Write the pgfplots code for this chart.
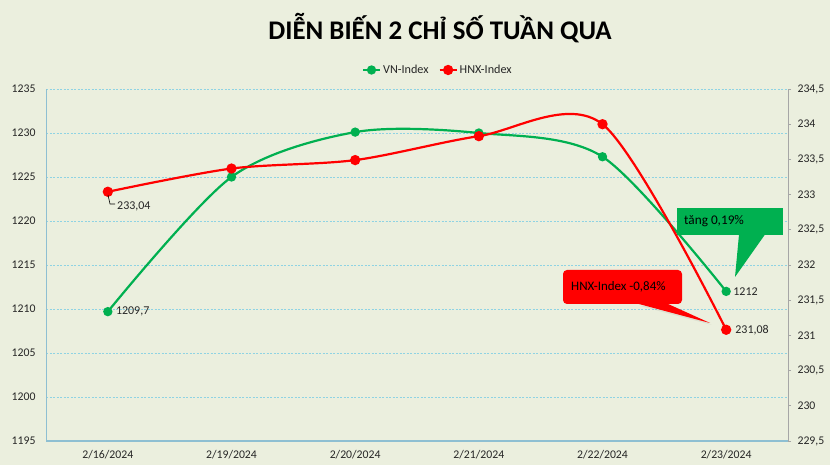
\documentclass[border=0pt]{standalone}
\usepackage{fontspec}
\setmainfont{Carlito}
\usepackage{pgfplots}
\pgfplotsset{compat=1.18}
\definecolor{bg}{HTML}{EBEFDE}
\definecolor{vn}{HTML}{00B050}
\definecolor{hnx}{HTML}{FF0000}
\definecolor{gridc}{HTML}{8FD3E3}
\definecolor{axc}{HTML}{8EBFD2}
\definecolor{txt}{HTML}{262626}
\begin{document}
\begin{tikzpicture}[x=1bp,y=1bp]
\fill[bg] (0,0) rectangle (830,465);
\useasboundingbox (0,0) rectangle (830,465);
\node[font=\fontsize{27}{30}\selectfont\bfseries, text=black] at (440,437) {DIỄN BIẾN 2 CHỈ SỐ TUẦN QUA};
\begin{axis}[
  at={(46bp,24bp)}, anchor=south west,
  scale only axis, width=742bp, height=352bp,
  xmin=-0.5, xmax=5.5, ymin=1195, ymax=1235,
  xtick={0,...,5},
  xticklabels={2/16/2024,2/19/2024,2/20/2024,2/21/2024,2/22/2024,2/23/2024},
  ytick={1195,1200,...,1235},
  axis y line*=left, axis x line*=bottom,
  axis line style={draw=axc, line width=1bp, -},
  x axis line style={line width=2bp},
  major tick length=0pt,
  ymajorgrids,
  major grid style={draw=gridc, line width=0.8bp, dash pattern=on 2bp off 1.5bp},
  tick label style={font=\fontsize{11.8}{13}\selectfont, text=txt},
  xticklabel style={yshift=-6bp},
  yticklabel style={xshift=-7bp},
  /pgf/number format/assume math mode=true,
  /pgf/number format/1000 sep={},
  legend style={at={(0.528,1.054)}, anchor=center, draw=none, fill=none,
    font=\fontsize{12.2}{14}\selectfont, text=txt, legend columns=2,
    /tikz/every even column/.append style={column sep=8bp}},
  legend cell align=left,
]
\addplot[vn, line width=2.2bp, smooth, mark=*, mark size=3.5bp, mark options={fill=vn, draw=vn}]
  coordinates {(0,1209.7) (1,1225.0) (2,1230.1) (3,1230.0) (4,1227.3) (5,1212)};
\addlegendentry{VN-Index}
\addlegendimage{hnx, line width=2.2bp, mark=*, mark size=4bp, mark options={fill=hnx, draw=hnx}}
\addlegendentry{HNX-Index}
\node[anchor=west, font=\fontsize{12}{13}\selectfont, text=txt, inner sep=0pt] at (axis cs:0,1209.7) [xshift=8bp] {1209,7};
\node[anchor=west, font=\fontsize{12}{13}\selectfont, text=txt, inner sep=0pt] at (axis cs:5,1212) [xshift=7bp] {1212};
\end{axis}
\begin{axis}[
  at={(46bp,24bp)}, anchor=south west,
  scale only axis, width=742bp, height=352bp,
  xmin=-0.5, xmax=5.5, ymin=229.5, ymax=234.5,
  ytick={229.5,230,...,234.5},
  axis y line*=right, axis x line=none,
  axis line style={draw=gray!70, line width=1bp, -},
  tick align=outside, major tick length=3bp,
  tick style={draw=gray!70, line width=0.8bp},
  tick label style={font=\fontsize{11.8}{13}\selectfont, text=txt},
  yticklabel style={xshift=3bp},
  /pgf/number format/assume math mode=true,
  /pgf/number format/use comma,
  /pgf/number format/fixed,
]
\addplot[hnx, line width=2.2bp, smooth, mark=*, mark size=4bp, mark options={fill=hnx, draw=hnx}]
  coordinates {(0,233.04) (1,233.37) (2,233.49) (3,233.83) (4,234.0) (5,231.08)};
\node[anchor=west, font=\fontsize{12}{13}\selectfont, text=txt, inner sep=0pt] at (axis cs:5,231.08) [xshift=9bp] {231,08};
\end{axis}
% leader line for 233,04
\draw[black, line width=0.6bp] (108,270) -- (110,261) -- (115,261);
\node[anchor=west, font=\fontsize{12}{13}\selectfont, text=txt, inner sep=0pt] at (117,259) {233,04};
% green callout
\fill[vn] (677,257) rectangle (783,230);
\fill[vn] (739,230.5) -- (735,188) -- (765,230.5) -- cycle;
\node[anchor=west, font=\fontsize{13.3}{15}\selectfont, text=black, inner sep=0pt] at (684,244) {tăng 0,19\%};
% red callout
\fill[black, opacity=0.06] (640,159) -- (712,140) -- (670,159) -- cycle;
\fill[hnx] (637,161.5) -- (710,142) -- (667,161.5) -- cycle;
\fill[hnx, rounded corners=4bp] (563,195) rectangle (682,161);
\node[anchor=west, font=\fontsize{13}{15}\selectfont, text=black, inner sep=0pt] at (571,178) {HNX-Index -0,84\%};
\end{tikzpicture}
\end{document}
